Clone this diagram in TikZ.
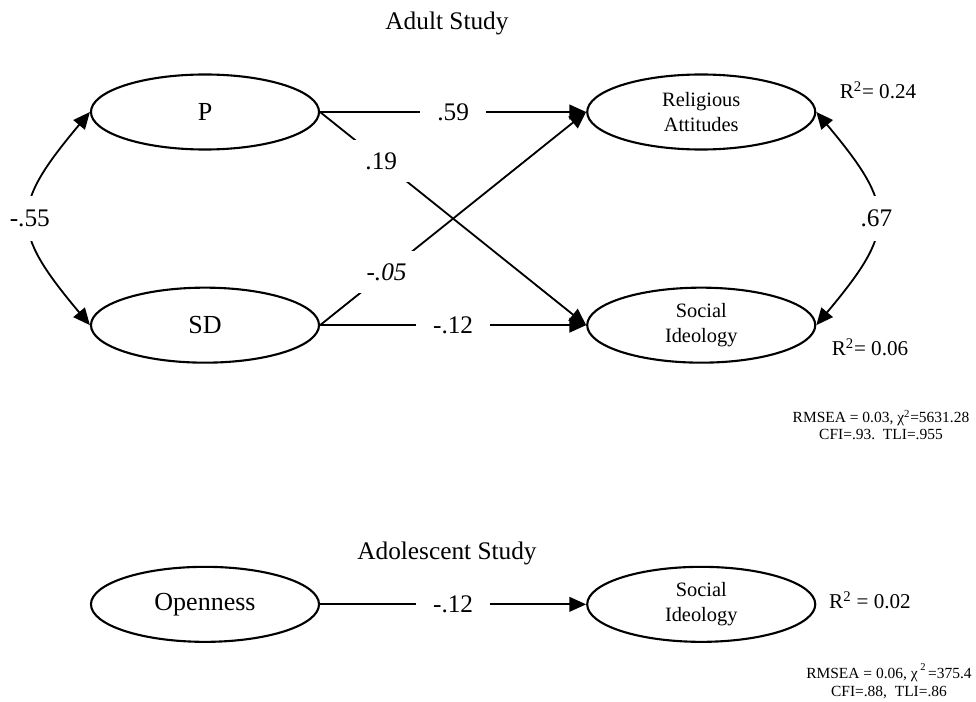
\documentclass[tikz,border=0pt]{standalone}
\usepackage{fontspec}
\setmainfont{Liberation Serif}
\usetikzlibrary{arrows.meta, positioning, shapes.geometric}

\begin{document}
\begin{tikzpicture}[x=0.025cm, y=-0.025cm]
            % Styles
            \tikzstyle{latent} = [ellipse, draw, line width=1.5pt, minimum width=5.7cm, minimum height=1.875cm, align=center, font=\fontsize{18.5}{20}\selectfont]
            \tikzstyle{outcome} = [latent, font=\fontsize{14.5}{17.5}\selectfont]
            \tikzstyle{link} = [line width=1.3pt, -{Triangle[length=12pt, width=10.5pt]}]
            \tikzstyle{corr} = [line width=1.3pt, {Triangle[length=12pt, width=10.5pt]}-{Triangle[length=12pt, width=10.5pt]}]
            \tikzstyle{coef} = [fill=white, inner xsep=12pt, inner ysep=4pt, font=\fontsize{18}{20}\selectfont]
            \tikzstyle{title} = [font=\fontsize{18}{20}\selectfont]
            \tikzstyle{rsq} = [font=\fontsize{15}{17}\selectfont]
            \tikzstyle{fitstat} = [align=center, font=\fontsize{11}{12}\selectfont]

            \useasboundingbox (0,0) rectangle (976,702);

            % Adult study
            \node[title] (adult_title) at (447,23) {Adult Study};
            \node[latent] (pers_p) at (205,112) {P};
            \node[latent, below=3.4cm of pers_p] (pers_sd) {SD};
            \node[outcome, right=6.65cm of pers_p] (relig_att) {Religious\\Attitudes};
            \node[outcome, below=3.4cm of relig_att] (soc_ideo) {Social\\Ideology};

            % Paths
            \draw[link] (pers_p) -- node[coef] {.59} (relig_att);
            \draw[link] (pers_p.east) -- node[coef, pos=0.23, inner ysep=9pt] {.19} (soc_ideo.west);
            \draw[link] (pers_sd.east) -- node[coef, pos=0.25, inner ysep=9pt] {\textit{-.05}} (relig_att.west);
            \draw[link] (pers_sd) -- node[coef] {-.12} (soc_ideo);

            % Correlations
            \draw[corr] (pers_p.west) to[bend right=40, looseness=1.5] node[coef, inner xsep=2pt, inner ysep=10pt] {-.55} (pers_sd.west);
            \draw[corr] (relig_att.east) to[bend left=40, looseness=1.5] node[coef, inner xsep=2pt, inner ysep=10pt] {.67} (soc_ideo.east);

            % Explained variance and fit
            \node[rsq] (r2_relig) at (878,90) {R\textsuperscript{2}= 0.24};
            \node[rsq] (r2_social) at (870,347) {R\textsuperscript{2}= 0.06};
            \node[fitstat] (fit_adult) at (881,425) {RMSEA = 0.03, χ\textsuperscript{2}=5631.28\\CFI=.93.\ \ TLI=.955};

            % Adolescent study
            \node[title] (adol_title) at (447,553) {Adolescent Study};
            \node[latent, below=5.05cm of pers_sd] (openness) {Openness};
            \node[outcome, right=6.65cm of openness] (soc_ideo2) {Social\\Ideology};
            \draw[link] (openness) -- node[coef] {-.12} (soc_ideo2);
            \node[rsq] (r2_adol) at (870,600) {R\textsuperscript{2} = 0.02};
            \node[fitstat, font=\fontsize{11}{13}\selectfont] (fit_adol) at (889,681) {RMSEA = 0.06, χ\,\raisebox{1.1ex}{\fontsize{7.5}{8}\selectfont 2}\,=375.4\\CFI=.88,\ \ TLI=.86};
        \end{tikzpicture}
\end{document}
